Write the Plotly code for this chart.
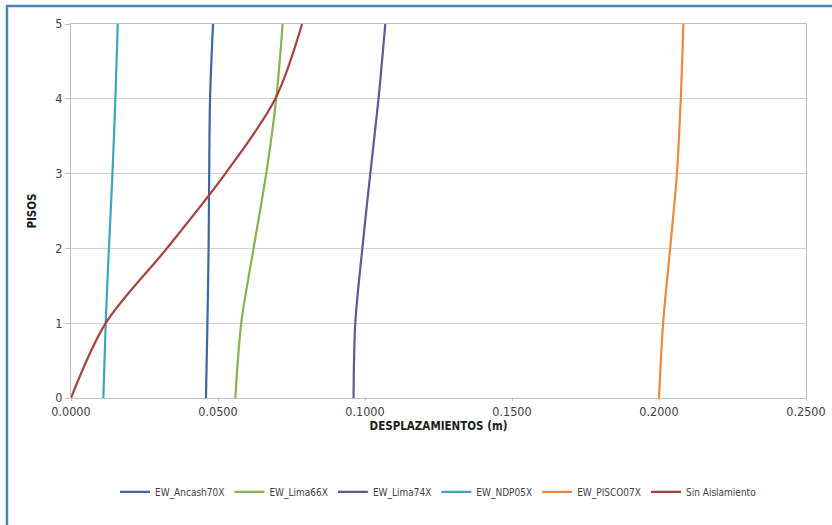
import plotly.graph_objects as go

pisos = [0, 1, 2, 3, 4, 5]

ew_ancash70x = [0.0459, 0.0464, 0.0468, 0.0470, 0.0473, 0.0483]
ew_lima66x = [0.0559, 0.0579, 0.0621, 0.0664, 0.0698, 0.0720]
ew_lima74x = [0.0961, 0.0967, 0.0991, 0.1018, 0.1046, 0.1069]
ew_ndp05x = [0.0110, 0.0118, 0.0129, 0.0141, 0.0151, 0.0159]
ew_pisco07x = [0.2000, 0.2014, 0.2038, 0.2061, 0.2074, 0.2083]
sin_aislamiento = [0.0, 0.0118, 0.0326, 0.0525, 0.0695, 0.0786]

series = [
    ("EW_Ancash70X", ew_ancash70x, "#3E66A3"),
    ("EW_Lima66X", ew_lima66x, "#8DB04E"),
    ("EW_Lima74X", ew_lima74x, "#5E5A92"),
    ("EW_NDP05X", ew_ndp05x, "#3FA3C0"),
    ("EW_PISCO07X", ew_pisco07x, "#E98A3C"),
    ("Sin Aislamiento", sin_aislamiento, "#A8403F"),
]

x_ticks = [0, 0.05, 0.10, 0.15, 0.20, 0.25]
y_ticks = [0, 1, 2, 3, 4, 5]

FONT = "Liberation Sans Narrow, DejaVu Sans Condensed, Roboto Condensed, Arial Narrow, sans-serif"

fig = go.Figure()
for name, vals, color in series:
    fig.add_trace(go.Scatter(
        x=vals, y=pisos, mode="lines", name=name,
        line=dict(color=color, width=2.2, shape="spline", smoothing=0.9),
    ))

fig.update_layout(
    width=832, height=525,
    margin=dict(l=71, r=26, t=24, b=127),
    paper_bgcolor="white", plot_bgcolor="white",
    font=dict(family=FONT, size=11, color="#404040"),
    showlegend=True,
    legend=dict(orientation="h", x=0.5, xanchor="center", y=-0.251, yanchor="middle",
                font=dict(family=FONT, size=10, color="#404040"),
                itemwidth=30, tracegroupgap=0),
    xaxis=dict(
        range=[0, 0.25], tickvals=x_ticks, tickformat=".4f", automargin=False,
        showgrid=False, zeroline=False,
        showline=True, linecolor="#BFBFBF", linewidth=1, mirror=True,
        ticks="outside", ticklen=2, tickcolor="#BFBFBF",
        tickfont=dict(family=FONT, size=12.5, color="#404040"),
        title=dict(text="<b>DESPLAZAMIENTOS (m)</b>", font=dict(family=FONT, size=11.5, color="#202020"), standoff=0),
    ),
    yaxis=dict(
        range=[0, 5], tickvals=y_ticks, automargin=False,
        showgrid=True, gridcolor="#D0D0D0", gridwidth=1, zeroline=False,
        showline=True, linecolor="#BFBFBF", linewidth=1, mirror=True,
        ticks="outside", ticklen=5, tickcolor="#BFBFBF",
        tickfont=dict(family=FONT, size=12.5, color="#404040"),
        title=dict(text="<b>PISOS</b>", font=dict(family=FONT, size=11.5, color="#202020"), standoff=16),
    ),
    shapes=[dict(type="rect", xref="paper", yref="paper",
                 x0=-0.0871, x1=1.06, y0=-0.40, y1=1.048,
                 line=dict(color="#4F81BD", width=2.5), fillcolor="rgba(0,0,0,0)", layer="below")],
)

fig.write_html(
    "out.html",
    config={"displayModeBar": False},
    post_script="document.body.style.margin='0';document.body.style.overflow='hidden';",
)
